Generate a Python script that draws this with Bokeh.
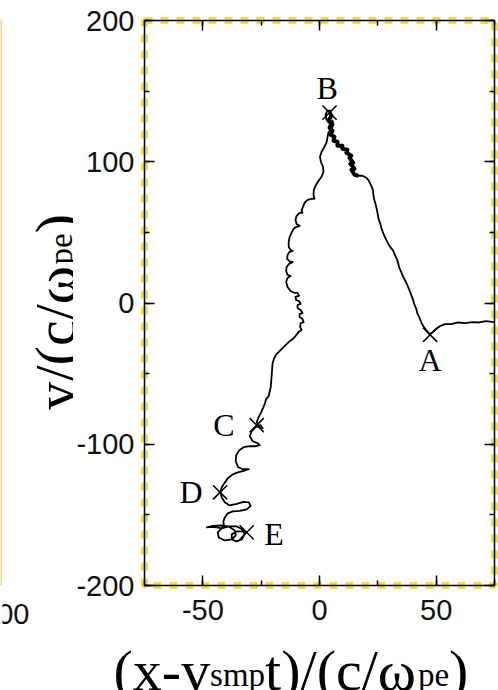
from math import pi

from bokeh.embed import file_html
from bokeh.layouts import column, row
from bokeh.models import (ColumnDataSource, CustomJSTickFormatter, LinearAxis,
                          Range1d, SingleIntervalTicker)
from bokeh.core.properties import value
from bokeh.plotting import figure
from bokeh.resources import INLINE

# Guiding-centre trajectory of the tracked particle, in units of c/omega_pe
traj_x = [
    74.8, 71.4, 68.4, 65.4, 62.4, 59.4, 56.4, 53.8, 51.7, 50.0, 48.3, 47.2,
    45.7, 44.4, 43.6, 42.9, 41.9, 41.5, 40.6, 40.0, 39.3, 38.5, 37.6, 36.8,
    35.7, 35.0, 34.2, 33.8, 33.3, 32.5, 31.6, 30.6, 29.5, 28.6, 27.8, 27.1,
    26.5, 26.1, 25.4, 25.0, 24.6, 24.1, 23.5, 23.1, 22.9, 22.2, 21.2, 20.1,
    18.4, 16.7,
    15.0, 13.7, 15.0, 13.2, 14.5, 12.8, 13.7, 11.5, 12.0, 9.8, 9.8, 7.7,
    7.7, 6.0, 6.4, 4.7, 5.6, 4.3, 5.1, 3.8, 4.7,
    5.1, 4.7, 3.4, 2.6, 3.0, 4.3, 5.6, 6.0, 5.1, 3.8, 3.4, 3.0, 1.9,
    0.9, 0.2, 0.6, 1.5, 1.7, 0.9, -0.4, -1.7, -2.4, -2.6, -2.1, -3.4,
    -5.1, -6.4, -7.1, -7.7, -7.3, -8.5, -9.8, -10.3, -9.8, -8.5, -9.8, -11.1,
    -12.0, -12.8, -13.2, -13.2, -12.4, -11.5, -12.8, -13.7, -13.9, -12.8, -11.5, -13.0,
    -14.1, -14.3, -13.7, -12.4, -13.7, -14.3, -13.7, -12.4, -10.7, -9.4, -8.8, -10.3,
    -10.0, -8.8, -8.1, -9.4, -9.4, -8.1, -7.3, -8.5, -8.5, -7.3, -6.8, -8.1,
    -8.3, -7.7, -9.0, -10.3, -11.5, -13.2, -15.0, -16.7, -18.4, -19.4, -20.1, -20.3,
    -20.5, -20.7, -20.9, -21.4, -21.8, -22.9, -23.5, -24.4, -25.2, -26.3, -26.9,
    -26.1, -24.4, -25.2, -27.4, -29.1, -29.9, -28.6, -26.5, -25.6, -27.4, -29.9,
    -32.5, -34.4, -35.7, -35.9, -34.8, -32.9, -30.3, -32.5, -35.0, -37.2, -39.3,
    -40.8, -41.9, -42.5, -41.9, -40.6, -38.5, -35.5, -32.5, -30.3, -29.5, -31.2,
    -34.2, -37.2, -39.3, -40.6, -41.2, -41.0, -41.9, -44.0, -46.6, -48.3, -45.7,
    -42.3, -38.9, -36.3, -35.9, -37.6, -40.6, -43.2, -43.6, -41.9, -38.9, -35.5,
    -32.9, -32.1, -33.3, -35.5, -37.6, -37.6, -35.5, -32.9, -31.2,
]
traj_y = [
    -13.5, -12.8, -13.8, -13.5, -14.2, -13.8, -14.9, -14.9, -16.3, -18.4, -20.9, -22.0,
    -19.1, -16.3, -13.5, -10.6, -7.1, -4.3, -0.7, 2.8, 5.7, 9.2, 12.8, 15.6,
    19.1, 22.0, 24.8, 27.7, 30.5, 33.3, 36.9, 39.0, 41.8, 44.7, 47.5, 50.4,
    53.2, 56.0, 58.9, 62.4, 66.0, 69.5, 73.0, 76.6, 80.1, 83.0, 86.5, 88.7,
    90.1, 90.1,
    90.8, 94.3, 95.0, 98.6, 99.3, 102.8, 104.3, 106.4, 108.5, 109.2, 111.3, 111.3,
    114.2, 114.9, 117.7, 119.1, 122.0, 124.1, 127.0, 129.1, 131.2,
    134.0, 136.2, 136.2, 133.3, 129.8, 127.7, 129.1, 126.2, 123.4, 120.6, 117.0, 113.5, 109.9,
    107.1, 103.5, 100.0, 96.5, 92.9, 89.4, 86.5, 83.0, 80.1, 76.6, 73.8, 73.8,
    73.0, 70.9, 68.1, 65.2, 63.8, 63.8, 61.7, 58.9, 56.0, 54.6, 53.9, 52.5,
    49.6, 46.8, 43.3, 39.7, 37.6, 36.9, 36.2, 34.0, 31.2, 29.4, 29.1, 27.7,
    25.5, 22.7, 19.9, 19.1, 17.7, 14.9, 11.3, 8.5, 7.1, 7.1, 5.0, 4.3,
    2.1, 1.4, -0.7, -1.4, -3.5, -5.0, -7.1, -7.8, -9.9, -11.3, -13.5, -14.2,
    -17.0, -19.1, -20.6, -23.4, -25.5, -27.7, -30.5, -33.3, -36.2, -39.0, -42.6, -46.8,
    -51.1, -55.3, -59.6, -63.1, -66.0, -68.1, -71.6, -75.2, -78.0, -81.6, -84.4,
    -87.9, -88.7, -86.5, -87.9, -90.8, -94.3, -97.9, -99.3, -100.7, -101.4, -101.4,
    -102.1, -104.3, -107.8, -112.1, -116.3, -117.7, -117.7, -118.8, -119.9, -121.3, -124.1,
    -127.7, -130.5, -134.0, -137.6, -141.1, -143.3, -142.2, -140.8, -141.1, -143.6, -146.1,
    -147.2, -147.5, -148.9, -151.8, -154.6, -157.4, -159.6, -158.9, -158.5, -158.9, -157.8,
    -157.4, -158.2, -161.0, -164.5, -167.4, -168.1, -166.0, -162.4, -159.6, -158.2, -158.2,
    -160.3, -163.8, -167.4, -168.8, -167.4, -163.8, -161.7, -161.7, -162.4,
]

# stretch where the orbit lingers below B (drawn heavier)
dense_from, dense_to = 49, 72

# Marked instants along the orbit
mark_names = ["A", "B", "C", "D", "E"]
mark_x = [47.4, 4.3, -26.9, -42.6, -31.2]
mark_y = [-22.5, 134.8, -86.5, -134.0, -162.4]
name_x = [47.4, 3.3, -41.0, -55.1, -19.5]
name_y = [-40.4, 152.3, -86.5, -133.8, -163.3]

x_ticks_step = 50
y_ticks_step = 100

# axis titles, split into normal and subscript runs
xlab_parts = ["(x-v", "smp", "t)/(c/ω", "pe", ")"]
xlab_sub = [False, True, False, True, False]
ylab_parts = ["y/(c/ω", "pe", ")"]
ylab_sub = [False, True, False]

SERIF = "Liberation Serif"
SANS = "Liberation Sans"
BIG, SMALL = "58px", "33px"


def bare(fig):
    fig.outline_line_color = None
    fig.background_fill_color = "white"
    fig.border_fill_color = "white"
    return fig


# ---------------------------------------------------------------- main panel
p = figure(
    width=425, height=632,
    x_range=Range1d(-75, 75), y_range=Range1d(-200, 200),
    x_axis_type=None, y_axis_type=None,
    output_backend="svg", toolbar_location=None, frame_align=False,
    min_border_left=70, min_border_right=4,
    min_border_top=20, min_border_bottom=47,
    background_fill_color="white", border_fill_color="white",
)

# framed box: black axis lines with a yellow dashed outline on top
p.outline_line_color = "#ece23a"
p.outline_line_width = 7
p.outline_line_dash = "8 8"


def make_axis(step, labelled):
    ax = LinearAxis(ticker=SingleIntervalTicker(interval=step, num_minor_ticks=2))
    ax.axis_line_color = "black"
    ax.axis_line_width = 1.5
    ax.major_tick_in = 10
    ax.major_tick_out = 0
    ax.minor_tick_in = 5
    ax.minor_tick_out = 0
    ax.major_tick_line_width = 1.5
    ax.minor_tick_line_width = 1.5
    ax.major_tick_line_color = "black"
    ax.minor_tick_line_color = "black"
    if labelled:
        ax.formatter = CustomJSTickFormatter(code="return String(tick)")
        ax.major_label_text_font = SANS
        ax.major_label_text_font_size = "29px"
        ax.major_label_text_color = "#111111"
    else:
        ax.formatter = CustomJSTickFormatter(code="return ''")
        ax.major_label_text_font_size = "0px"
        ax.major_label_standoff = 0
    return ax


xb = make_axis(x_ticks_step, True)
xb.major_label_standoff = 14
yl = make_axis(y_ticks_step, True)
yl.major_label_standoff = 10
p.add_layout(xb, "below")
p.add_layout(yl, "left")
p.add_layout(make_axis(x_ticks_step, False), "above")
p.add_layout(make_axis(y_ticks_step, False), "right")

# trajectory
p.line(traj_x, traj_y, line_color="black", line_width=1.8, line_join="round")
p.line(traj_x[dense_from:dense_to], traj_y[dense_from:dense_to],
       line_color="black", line_width=4.0, line_join="round")

marks = ColumnDataSource(dict(x=mark_x, y=mark_y))
p.scatter("x", "y", source=marks, marker="x", size=20, line_color="black", line_width=1.5)

names = ColumnDataSource(dict(x=name_x, y=name_y, t=mark_names))
p.text("x", "y", text="t", source=names, text_font=value(SERIF), text_font_size="32px",
       text_align="center", text_baseline="middle", text_color="black")

# ---------------------------------------------- x title strip (page pixels)
xt = bare(figure(width=425, height=58, x_range=Range1d(73, 498), y_range=Range1d(690, 632),
                 x_axis_type=None, y_axis_type=None, output_backend="svg",
                 toolbar_location=None, min_border=0, frame_align=False))
xt_x = [113.0, 209.6, 264.6, 417.4, 448.6]
xt_y = [670.0 + (4.0 if s else 0.0) for s in xlab_sub]
xt_size = [SMALL if s else BIG for s in xlab_sub]
xt.text(xt_x, xt_y, text=xlab_parts, text_font=value(SERIF), text_font_size=xt_size,
        text_align="left", text_baseline="alphabetic", text_color="black")

# ---------------------------------------------- y title strip (page pixels)
yt = bare(figure(width=71, height=690, x_range=Range1d(2, 73), y_range=Range1d(690, 0),
                 x_axis_type=None, y_axis_type=None, output_backend="svg",
                 toolbar_location=None, min_border=0, frame_align=False))
yt_x = [55.0 + (5.0 if s else 0.0) for s in ylab_sub]
yt_y = [410.0, 263.9, 232.7]
yt_size = [SMALL if s else BIG for s in ylab_sub]
yt.text(yt_x, yt_y, text=ylab_parts, text_font=value(SERIF), text_font_size=yt_size,
        angle=pi / 2, text_align="left", text_baseline="alphabetic", text_color="black")
# tick label of the neighbouring panel, cut at the page edge
yt.text([29.0], [613.0], text=["00"], text_font=value(SANS), text_font_size="29px",
        text_align="right", text_baseline="middle", text_color="#111111")

# ---------------------------------------------- edge of the neighbouring panel
edge = figure(width=2, height=690, x_axis_type=None, y_axis_type=None,
              output_backend="svg", toolbar_location=None, frame_align=False,
              min_border_left=0, min_border_right=0, min_border_top=19, min_border_bottom=105,
              background_fill_color="#f3d386", border_fill_color="white")
edge.outline_line_color = None

layout = row(edge, yt, column(p, xt))

with open("out.html", "w") as f:
    f.write(file_html(layout, INLINE))
